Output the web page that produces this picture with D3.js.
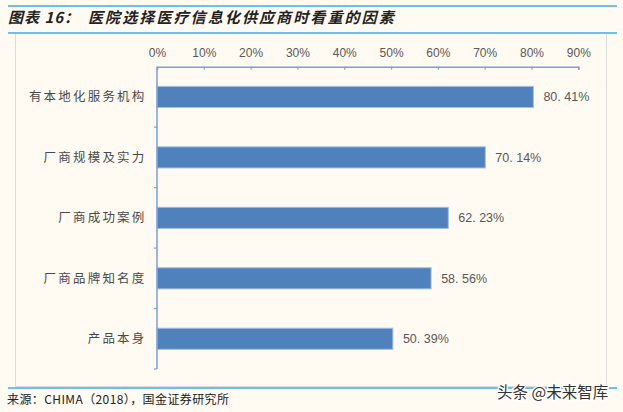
<!DOCTYPE html>
<html>
<head>
<meta charset="utf-8">
<script src="https://cdn.jsdelivr.net/npm/d3@7"></script>
<style>
  html, body { margin: 0; padding: 0; background: #fffbf2; }
  svg { display: block; }
</style>
</head>
<body>
<svg id="chart" width="623" height="412"></svg>
<script>
const titlePrefix = "图表 16：";
const titleText = "医院选择医疗信息化供应商时看重的因素";
const sourceText = "来源：CHIMA（2018），国金证券研究所";
const watermarkText = "头条 @未来智库";
const categories = ["有本地化服务机构", "厂商规模及实力", "厂商成功案例", "厂商品牌知名度", "产品本身"];
const values = [80.41, 70.14, 62.23, 58.56, 50.39];
const tickValues = [0, 10, 20, 30, 40, 50, 60, 70, 80, 90];

const svg = d3.select("#chart");
const W = 623, H = 412;

svg.append("rect").attr("width", W).attr("height", H).attr("fill", "#fffbf2");

// gray frame
svg.append("rect")
  .attr("x", 15.5).attr("y", 33).attr("width", 591).attr("height", 353.5)
  .attr("fill", "none").attr("stroke", "#dcdcdc").attr("stroke-width", 1);

// blue rules
const ruleColor = "#6cc1ea";
[6, 33, 388].forEach(y => {
  svg.append("line").attr("x1", 8).attr("x2", 617).attr("y1", y).attr("y2", y)
    .attr("stroke", ruleColor).attr("stroke-width", 2);
});

// title
const titleFont = "'Noto Sans CJK SC', sans-serif";
svg.append("text")
  .attr("x", 8).attr("y", 23)
  .attr("font-family", titleFont)
  .attr("font-size", 15).attr("font-weight", "bold")
  .attr("font-style", "italic")
  .attr("letter-spacing", 1)
  .attr("fill", "#222")
  .text(titlePrefix);
svg.append("text")
  .attr("x", 88).attr("y", 23)
  .attr("font-family", titleFont)
  .attr("font-size", 15).attr("font-weight", "bold")
  .attr("font-style", "italic")
  .attr("letter-spacing", 2.1)
  .attr("fill", "#222")
  .text(titleText);

// source
svg.append("text")
  .attr("x", 7).attr("y", 404)
  .attr("font-family", "'Noto Sans CJK SC', 'Liberation Serif', serif")
  .attr("font-size", 12)
  .attr("letter-spacing", 0.4)
  .attr("fill", "#222")
  .text(sourceText);

const x = d3.scaleLinear().domain([0, 90]).range([157, 578.3]);
const y = d3.scaleBand().domain(categories).range([66.7, 369])
  .paddingInner(0.65).paddingOuter(0.325);

const axisColor = "#7d9fd3";
const labelColor = "#595959";

// top axis
const xAxis = d3.axisTop(x).tickValues(tickValues).tickSize(-3).tickPadding(9)
  .tickFormat(d => d + "%");
const gx = svg.append("g").attr("transform", `translate(0,${y.range()[0]})`).call(xAxis);
gx.select(".domain").attr("stroke", axisColor).attr("stroke-width", 1.5);
gx.selectAll(".tick line").attr("stroke", axisColor).attr("stroke-width", 1.2);
gx.selectAll(".tick text")
  .attr("fill", labelColor)
  .attr("font-family", "'Liberation Sans', Arial, sans-serif")
  .attr("font-size", 12)
  .attr("dy", "0")
  .attr("y", -10);

// bars
svg.append("g").selectAll("rect").data(values).join("rect")
  .attr("x", x(0))
  .attr("y", (d, i) => y(categories[i]))
  .attr("width", d => x(d) - x(0))
  .attr("height", y.bandwidth())
  .attr("fill", "#4f81bd")
  .attr("stroke", "#a8c0e2")
  .attr("stroke-width", 1);

// left axis (ticks at band boundaries)
const step = y.step();
const boundaries = d3.range(categories.length + 1).map(i => y.range()[0] + i * step);
const gy = svg.append("g");
gy.append("line")
  .attr("x1", x(0)).attr("x2", x(0))
  .attr("y1", y.range()[0]).attr("y2", y.range()[1])
  .attr("stroke", axisColor).attr("stroke-width", 1.5);
gy.selectAll("line.t").data(boundaries.slice(1)).join("line")
  .attr("class", "t")
  .attr("x1", x(0) - 3).attr("x2", x(0))
  .attr("y1", d => d).attr("y2", d => d)
  .attr("stroke", axisColor).attr("stroke-width", 1.2);

// category labels
svg.append("g").selectAll("text").data(categories).join("text")
  .attr("x", 146.5)
  .attr("y", d => y(d) + y.bandwidth() / 2)
  .attr("dy", "0.36em")
  .attr("text-anchor", "end")
  .attr("font-family", "'Noto Sans CJK SC', sans-serif")
  .attr("font-size", 12.5)
  .attr("letter-spacing", 2.2)
  .attr("fill", "#4a4a4a")
  .text(d => d);

// value labels
svg.append("g").selectAll("text").data(values).join("text")
  .attr("x", d => x(d) + 10)
  .attr("y", (d, i) => y(categories[i]) + y.bandwidth() / 2)
  .attr("dy", "0.36em")
  .attr("font-family", "'Liberation Sans', Arial, sans-serif")
  .attr("font-size", 12.5)
  .attr("fill", labelColor)
  .text(d => d3.format(".2f")(d).replace(".", ". ") + "%");

// watermark
svg.append("text")
  .attr("x", 497).attr("y", 397.5)
  .attr("font-family", "'Noto Sans CJK SC', sans-serif")
  .attr("font-size", 15.5)
  .attr("fill", "#333")
  .attr("stroke", "#ffffff").attr("stroke-width", 2.5)
  .attr("paint-order", "stroke")
  .text(watermarkText);
</script>
</body>
</html>
